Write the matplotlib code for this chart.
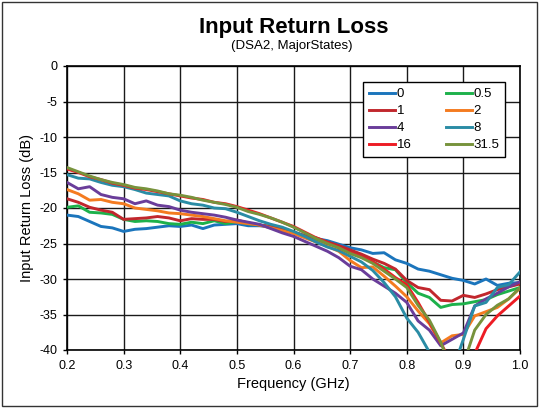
import matplotlib
matplotlib.use("Agg")
import matplotlib.pyplot as plt
from matplotlib.patches import Rectangle

plt.rcParams['font.family'] = ['Liberation Sans', 'DejaVu Sans']
plt.rcParams['axes.unicode_minus'] = False

freq = [0.20, 0.22, 0.24, 0.26, 0.28, 0.30, 0.32, 0.34, 0.36, 0.38,
        0.40, 0.42, 0.44, 0.46, 0.48, 0.50, 0.52, 0.54, 0.56, 0.58,
        0.60, 0.62, 0.64, 0.66, 0.68, 0.70, 0.72, 0.74, 0.76, 0.78,
        0.80, 0.82, 0.84, 0.86, 0.88, 0.90, 0.92, 0.94, 0.96, 0.98, 1.00]

s_0 = [-21.0, -21.2, -21.9, -22.6, -22.8, -23.3, -23.0, -22.9, -22.7, -22.5,
       -22.6, -22.4, -22.9, -22.4, -22.3, -22.2, -22.5, -22.5, -22.7, -23.0,
       -23.4, -23.9, -24.3, -24.6, -25.1, -25.6, -25.9, -26.4, -26.3, -27.3,
       -27.8, -28.6, -28.9, -29.4, -29.9, -30.2, -30.7, -30.0, -30.9, -30.6, -30.5]

s_05 = [-19.9, -19.7, -20.6, -20.7, -20.9, -21.6, -21.9, -21.8, -21.9, -22.2,
        -22.3, -22.0, -22.2, -21.8, -22.2, -21.9, -22.2, -22.4, -22.6, -23.1,
        -23.5, -24.0, -24.5, -25.0, -25.4, -26.2, -26.8, -27.6, -28.4, -28.7,
        -30.5, -32.0, -32.6, -34.0, -33.6, -33.5, -33.2, -32.9, -32.2, -31.7, -31.2]

s_1 = [-18.7, -19.2, -19.9, -20.3, -20.6, -21.6, -21.5, -21.4, -21.2, -21.4,
       -21.8, -21.5, -21.6, -21.6, -21.9, -21.7, -22.1, -22.4, -22.6, -23.0,
       -23.4, -23.9, -24.2, -24.8, -25.3, -25.9, -26.5, -27.2, -27.8, -28.6,
       -30.2, -31.2, -31.5, -33.0, -33.1, -32.3, -32.6, -32.1, -31.5, -31.1, -30.7]

s_2 = [-17.4, -18.0, -18.9, -18.8, -19.2, -19.4, -20.0, -20.2, -20.4, -20.7,
       -20.8, -21.0, -21.2, -21.5, -21.8, -22.0, -22.2, -22.4, -22.8, -23.2,
       -23.6, -24.2, -24.8, -25.4, -26.1, -27.4, -28.4, -28.3, -29.6, -31.0,
       -32.5, -34.5, -36.3, -39.0, -38.0, -37.8, -35.2, -34.6, -34.0, -32.8, -31.3]

s_4 = [-16.4, -17.3, -17.0, -18.1, -18.5, -18.7, -19.4, -19.0, -19.6, -19.8,
       -20.3, -20.6, -20.8, -21.0, -21.3, -21.7, -22.0, -22.3, -22.9, -23.5,
       -24.0, -24.7, -25.4, -26.1, -27.0, -28.2, -28.7, -30.0, -31.0, -32.0,
       -33.3, -35.9, -37.2, -39.4, -38.5, -37.6, -33.8, -32.8, -32.0, -31.1, -30.4]

s_8 = [-15.3, -15.8, -15.9, -16.4, -16.8, -17.0, -17.4, -17.9, -18.1, -18.3,
       -19.0, -19.4, -19.6, -20.0, -20.1, -20.6, -21.2, -21.8, -22.3, -22.7,
       -23.3, -24.0, -24.8, -25.5, -26.0, -26.8, -27.6, -28.8, -30.5, -32.5,
       -35.5, -37.5, -40.3, -43.0, -43.0, -38.5, -33.8, -33.3, -31.2, -30.8, -29.0]

s_16 = [-14.5, -15.0, -15.6, -16.0, -16.5, -16.8, -17.2, -17.4, -17.7, -18.0,
        -18.3, -18.6, -18.8, -19.2, -19.4, -19.8, -20.3, -20.8, -21.4, -22.0,
        -22.6, -23.4, -24.2, -24.9, -25.6, -26.3, -26.9, -27.6, -28.6, -29.8,
        -30.8, -33.3, -36.1, -39.0, -42.0, -43.0, -40.5, -37.0, -35.2, -33.8, -32.4]

s_315 = [-14.3, -14.9, -15.5, -16.0, -16.4, -16.7, -17.1, -17.3, -17.6, -18.0,
         -18.2, -18.5, -18.9, -19.2, -19.5, -19.9, -20.5, -20.9, -21.4, -22.0,
         -22.7, -23.5, -24.3, -25.0, -25.6, -26.4, -27.0, -27.8, -28.9, -30.0,
         -31.2, -33.7, -35.8, -38.9, -43.0, -42.0, -37.2, -35.0, -33.7, -32.8, -31.2]

labels = ["0", "0.5", "1", "2", "4", "8", "16", "31.5"]
series = [s_0, s_05, s_1, s_2, s_4, s_8, s_16, s_315]
colors = ["#1B75BC", "#1DB14B", "#C1272D", "#F47B20", "#6A3D9A", "#2A8CA5", "#ED1C24", "#77933C"]

x_ticks = [0.2, 0.3, 0.4, 0.5, 0.6, 0.7, 0.8, 0.9, 1.0]
x_ticklabels = ["0.2", "0.3", "0.4", "0.5", "0.6", "0.7", "0.8", "0.9", "1.0"]
y_ticks = [0, -5, -10, -15, -20, -25, -30, -35, -40]
y_ticklabels = ["0", "-5", "-10", "-15", "-20", "-25", "-30", "-35", "-40"]

W, H = 539, 409
fig = plt.figure(figsize=(W / 100, H / 100), dpi=100)
ax = fig.add_axes([67 / W, 1 - 350 / H, (520 - 67) / W, (350 - 66) / H])

handles = {}
for lab, ys, c in zip(labels, series, colors):
    ln, = ax.plot(freq, ys, color=c, lw=2.1, solid_joinstyle='round', zorder=3)
    handles[lab] = ln

ax.set_xlim(0.2, 1.0)
ax.set_ylim(-40, 0)
ax.set_xticks(x_ticks)
ax.set_xticklabels(x_ticklabels)
ax.set_yticks(y_ticks)
ax.set_yticklabels(y_ticklabels)
ax.grid(True, color="#1a1a1a", lw=1.0, zorder=1)
ax.set_axisbelow(True)
ax.tick_params(direction='out', length=3, width=1, labelsize=9, colors='black', pad=4)
for sp in ax.spines.values():
    sp.set_linewidth(1.2)
    sp.set_color('black')

ax.set_xlabel("Frequency (GHz)", fontsize=10.5, labelpad=4)
ax.set_ylabel("Input Return Loss (dB)", fontsize=10.5, labelpad=4)

fig.text(293.5 / W, 1 - 28 / H, "Input Return Loss", ha='center', va='center',
         fontsize=16, fontweight='bold')
fig.text(292 / W, 1 - 46 / H, "(DSA2, MajorStates)", ha='center', va='center', fontsize=9.5)

order = ["0", "1", "4", "16", "0.5", "2", "8", "31.5"]
leg = ax.legend([handles[k] for k in order], order, ncol=2, loc='upper left',
                bbox_to_anchor=((363 - 67) / (520 - 67), 1 - (82 - 66) / (350 - 66)),
                fontsize=9.5, frameon=True, fancybox=False, edgecolor='black',
                framealpha=1, handlelength=2.0, handletextpad=0.1, columnspacing=2.6,
                borderpad=0.45, labelspacing=0.36, borderaxespad=0)
leg.get_frame().set_linewidth(1.0)

fig.patches.append(Rectangle((2 / W, 3 / H), (W - 4) / W, (H - 5) / H, transform=fig.transFigure,
                             fill=False, edgecolor='#333333', lw=1.0))

fig.savefig("out.png", dpi=100)
